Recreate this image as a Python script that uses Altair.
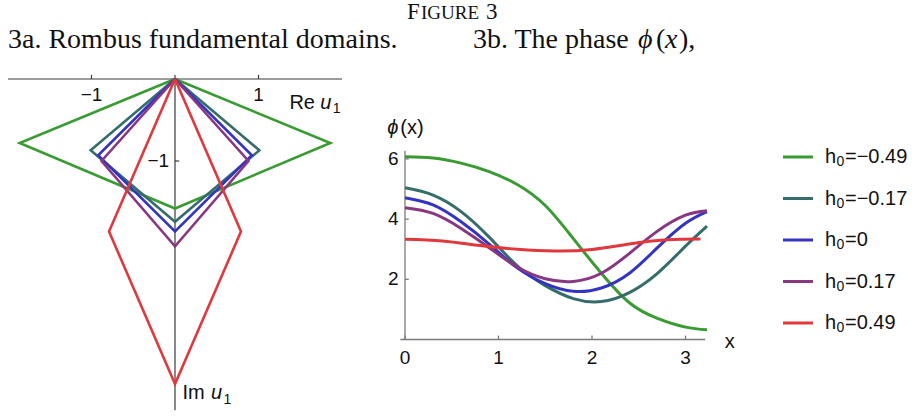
import altair as alt
import pandas as pd

# ---------------------------------------------------------------- data
SERIES = ["h₀=−0.49", "h₀=−0.17", "h₀=0", "h₀=0.17", "h₀=0.49"]
H0_VALUES = ["=−0.49", "=−0.17", "=0", "=0.17", "=0.49"]
COLORS = ["#3a9b33", "#346d69", "#3434c2", "#893683", "#e0383c"]

# Rhombus fundamental domains in the u1 plane: apex at the origin,
# side vertices at (±half_width, side_y), lower vertex at (0, bottom_y)
half_width = [1.86, 1.01, 0.92, 0.88, 0.79]
side_y = [-0.78, -0.87, -0.93, -1.00, -1.86]
bottom_y = [-1.58, -1.74, -1.86, -2.04, -3.72]

# Phase phi(x) for each h0
phi_grid = [0, 0.3, 0.6, 0.9, 1.2, 1.5, 1.8, 2.1, 2.4, 2.7, 3.0, 3.23]
phi_m049 = [6.07, 6.03, 5.86, 5.58, 5.15, 4.45, 3.35, 2.20, 1.22, 0.70, 0.41, 0.32]
phi_m017 = [5.04, 4.80, 4.25, 3.40, 2.45, 1.79, 1.36, 1.26, 1.56, 2.20, 3.10, 3.77]
phi_0 = [4.71, 4.47, 3.91, 3.17, 2.38, 1.86, 1.60, 1.71, 2.20, 3.05, 3.86, 4.25]
phi_p017 = [4.38, 4.19, 3.69, 3.05, 2.41, 2.02, 1.93, 2.20, 2.86, 3.60, 4.13, 4.28]

red_grid = [0, 0.4, 0.8, 1.2, 1.6, 2.0, 2.4, 2.8, 3.16]
phi_p049 = [3.33, 3.27, 3.12, 3.00, 2.94, 2.99, 3.17, 3.31, 3.34]

# Tick labels
left_xticks = [-1, 1]
left_xtick_labels = ["−1", "1"]
left_yticks = [-1]
left_ytick_labels = ["−1"]
right_xticks = [0, 1, 2, 3]
right_yticks = [2, 4, 6]

# ---------------------------------------------------------------- scales
LX = alt.Scale(domain=[-2, 2], range=[8, 342])
LY = alt.Scale(domain=[-4, 0], range=[407, 79])
RX = alt.Scale(domain=[0, 3], range=[405, 685.5])
RY = alt.Scale(domain=[0, 6], range=[339.5, 158.9])
CS = alt.Scale(domain=SERIES, range=COLORS)
PX = alt.Scale(domain=[0, 920], range=[0, 920])
PY = alt.Scale(domain=[0, 418], range=[0, 418])

SANS = "Liberation Sans"
SERIF = "Liberation Serif"
LEFT_AXIS = "#3a3a3a"
RIGHT_AXIS = "#7a7a7a"
INK = "#111"


def pos(field, scale, ch):
    return ch(field, scale=scale, axis=None)


def text_layer(df, x, y, xs, ys, **mark):
    base = dict(font=SANS, fontSize=20, baseline="middle", align="left", color=INK)
    base.update(mark)
    return alt.Chart(df).mark_text(**base).encode(
        x=pos(x, xs, alt.X), y=pos(y, ys, alt.Y), text="t:N"
    )


# ---------------------------------------------------------------- left panel
rows = []
for s, w, sy, by in zip(SERIES, half_width, side_y, bottom_y):
    for k, (u, v) in enumerate([(0, 0), (-w, sy), (0, by), (w, sy), (0, 0)]):
        rows.append({"series": s, "k": k, "u": u, "v": v})
rhombi_df = pd.DataFrame(rows)

left_axes_df = pd.DataFrame({
    "x0": [-2, 0] + left_xticks + [0],
    "x1": [2, 0] + left_xticks + [0.05],
    "y0": [0, 0.05, 0, 0, -1],
    "y1": [0, -4.04, 0.05, 0.05, -1],
})
left_axes = alt.Chart(left_axes_df).mark_rule(color=LEFT_AXIS, strokeWidth=1.2).encode(
    x=pos("x0:Q", LX, alt.X), x2="x1:Q", y=pos("y0:Q", LY, alt.Y), y2="y1:Q"
)

rhombi = alt.Chart(rhombi_df).mark_line(strokeWidth=2.6, strokeJoin="miter").encode(
    x=pos("u:Q", LX, alt.X),
    y=pos("v:Q", LY, alt.Y),
    color=alt.Color("series:N", scale=CS, legend=None),
    order="k:Q",
)

left_xlab = text_layer(
    pd.DataFrame({"x": left_xticks, "y": [-0.2] * 2, "t": left_xtick_labels}),
    "x:Q", "y:Q", LX, LY, fontSize=19, align="center")
left_ylab = text_layer(
    pd.DataFrame({"x": [-0.07], "y": left_yticks, "t": left_ytick_labels}),
    "x:Q", "y:Q", LX, LY, fontSize=19, align="right")

# axis names "Re u1" and "Im u1"
left_names = text_layer(
    pd.DataFrame({"x": [1.37, 0.09], "y": [-0.29, -3.83], "t": ["Re", "Im"]}),
    "x:Q", "y:Q", LX, LY)
left_names_u = text_layer(
    pd.DataFrame({"x": [1.74, 0.43], "y": [-0.29, -3.83], "t": ["u", "u"]}),
    "x:Q", "y:Q", LX, LY, fontStyle="italic")
left_names_sub = text_layer(
    pd.DataFrame({"x": [1.89, 0.58], "y": [-0.37, -3.91], "t": ["1", "1"]}),
    "x:Q", "y:Q", LX, LY, fontSize=14)

# ---------------------------------------------------------------- right panel
curve_rows = []
for s, xs, ys in zip(SERIES, [phi_grid, phi_grid, phi_grid, phi_grid, red_grid],
                     [phi_m049, phi_m017, phi_0, phi_p017, phi_p049]):
    for xv, yv in zip(xs, ys):
        curve_rows.append({"series": s, "x": xv, "phi": yv})
curves_df = pd.DataFrame(curve_rows)

right_axes_df = pd.DataFrame({
    "x0": [-0.05, 0] + right_xticks + [0] * len(right_yticks),
    "x1": [3.21, 0] + right_xticks + [0.04] * len(right_yticks),
    "y0": [0, 0] + [0] * len(right_xticks) + right_yticks,
    "y1": [0, 6.27] + [0.13] * len(right_xticks) + right_yticks,
})
right_axes = alt.Chart(right_axes_df).mark_rule(color=RIGHT_AXIS, strokeWidth=1.3).encode(
    x=pos("x0:Q", RX, alt.X), x2="x1:Q", y=pos("y0:Q", RY, alt.Y), y2="y1:Q"
)

curves = alt.Chart(curves_df).mark_line(strokeWidth=3, interpolate="natural").encode(
    x=pos("x:Q", RX, alt.X),
    y=pos("phi:Q", RY, alt.Y),
    color=alt.Color("series:N", scale=CS, legend=None),
    detail="series:N",
)

right_xlab = text_layer(
    pd.DataFrame({"x": right_xticks, "y": [-0.6] * len(right_xticks),
                  "t": [str(v) for v in right_xticks]}),
    "x:Q", "y:Q", RX, RY, fontSize=19, align="center")
right_ylab = text_layer(
    pd.DataFrame({"x": [-0.07] * len(right_yticks), "y": right_yticks,
                  "t": [str(v) for v in right_yticks]}),
    "x:Q", "y:Q", RX, RY, fontSize=19, align="right")
right_phi = text_layer(
    pd.DataFrame({"x": [-0.19], "y": [7.03], "t": ["ϕ"]}),
    "x:Q", "y:Q", RX, RY, fontStyle="italic")
right_names = text_layer(
    pd.DataFrame({"x": [-0.05, 3.42], "y": [7.03, -0.07], "t": ["(x)", "x"]}),
    "x:Q", "y:Q", RX, RY)

# ---------------------------------------------------------------- legend
LEG_Y = alt.Scale(type="point", domain=SERIES, range=[157, 323], padding=0)
legend_df = pd.DataFrame({"series": SERIES, "h": ["h"] * 5, "sub": ["0"] * 5, "val": H0_VALUES})
legend_lines = alt.Chart(legend_df).mark_rule(strokeWidth=3).encode(
    x=alt.value(783), x2=alt.value(813),
    y=alt.Y("series:N", scale=LEG_Y, axis=None),
    color=alt.Color("series:N", scale=CS, legend=None),
)


def legend_piece(field, xpx, size, dy=0):
    return alt.Chart(legend_df).mark_text(
        font=SANS, fontSize=size, align="left", baseline="middle", color=INK, dy=dy
    ).encode(
        x=alt.value(xpx),
        y=alt.Y("series:N", scale=LEG_Y, axis=None),
        text=f"{field}:N",
    )


legend_h = legend_piece("h", 825, 20)
legend_sub = legend_piece("sub", 836.5, 14, dy=5)
legend_val = legend_piece("val", 845, 20)

# ---------------------------------------------------------------- headings
heading_df = pd.DataFrame({
    "t": ["F", "IGURE", "3", "3a. Rombus fundamental domains.", "3b. The phase"],
    "px": [407, 421, 486, 8, 473],
    "py": [19, 19, 19, 48, 48],
    "size": [23, 19, 23, 28, 28],
})
headings = alt.Chart(heading_df).mark_text(
    font=SERIF, align="left", baseline="alphabetic", color=INK
).encode(
    x=alt.X("px:Q", scale=PX, axis=None),
    y=alt.Y("py:Q", scale=PY, axis=None),
    size=alt.Size("size:Q", scale=None, legend=None),
    text="t:N",
)


def heading_math(chars, xs, style):
    return alt.Chart(pd.DataFrame({"t": chars, "px": xs, "py": [48] * len(chars)})).mark_text(
        font=SERIF, fontSize=28, fontStyle=style, align="left", baseline="alphabetic", color=INK
    ).encode(
        x=alt.X("px:Q", scale=PX, axis=None),
        y=alt.Y("py:Q", scale=PY, axis=None),
        text="t:N",
    )


heading_math_it = heading_math(["ϕ", "x"], [638, 665], "italic")
heading_math_up = heading_math(["(", "),"], [656, 679], "normal")

chart = alt.layer(
    left_axes, rhombi, left_xlab, left_ylab, left_names, left_names_u, left_names_sub,
    right_axes, curves, right_xlab, right_ylab, right_phi, right_names,
    legend_lines, legend_h, legend_sub, legend_val, headings, heading_math_it, heading_math_up,
).resolve_scale(
    x="independent", y="independent", color="independent", size="independent"
).properties(
    width=920, height=418, padding=0, autosize=alt.AutoSizeParams(type="none"),
    background="white",
).configure_view(stroke=None)

chart.save("out.html", embed_options={"renderer": "svg", "actions": False})
